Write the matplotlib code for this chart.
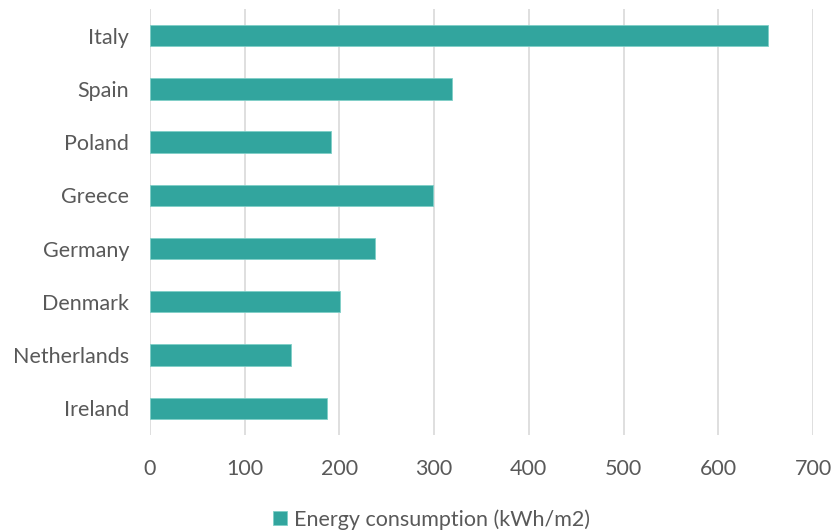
import matplotlib.pyplot as plt
import numpy as np

countries = ["Italy", "Spain", "Poland", "Greece", "Germany", "Denmark", "Netherlands", "Ireland"]
consumption = [652, 319, 191, 299, 238, 201, 149, 187]
x_ticks = [0, 100, 200, 300, 400, 500, 600, 700]

BAR = "#32A59E"
TEXT = "#595959"
GRID = "#D9D9D9"

plt.rcParams["font.family"] = ["Lato", "DejaVu Sans"]

fig = plt.figure(figsize=(8.33, 5.31), dpi=100)
ax = fig.add_axes([0.180, 0.181, 0.796, 0.802])

y = np.arange(len(countries))
ax.barh(y, consumption, height=0.4, color=BAR, edgecolor="#7FCFC8", linewidth=0.6,
        label="Energy consumption (kWh/m2)", zorder=3)

ax.set_ylim(len(countries) - 0.5, -0.5)
ax.set_yticks(y)
ax.set_yticklabels(countries)
ax.set_xlim(0, 700)
ax.set_xticks(x_ticks)
ax.set_xticklabels([str(v) for v in x_ticks])

ax.grid(axis="x", color=GRID, linewidth=1.2, zorder=0)
for side in ("top", "right", "bottom", "left"):
    ax.spines[side].set_visible(False)
ax.tick_params(axis="both", length=0, colors=TEXT, labelsize=15.5)
ax.tick_params(axis="x", pad=17)
ax.tick_params(axis="y", pad=15)

fig.legend(loc="lower center", bbox_to_anchor=(0.518, -0.034), frameon=False,
           fontsize=15.5, labelcolor=TEXT, handlelength=0.65, handleheight=0.65,
           handletextpad=0.3)

fig.savefig("out.png", dpi=100)
